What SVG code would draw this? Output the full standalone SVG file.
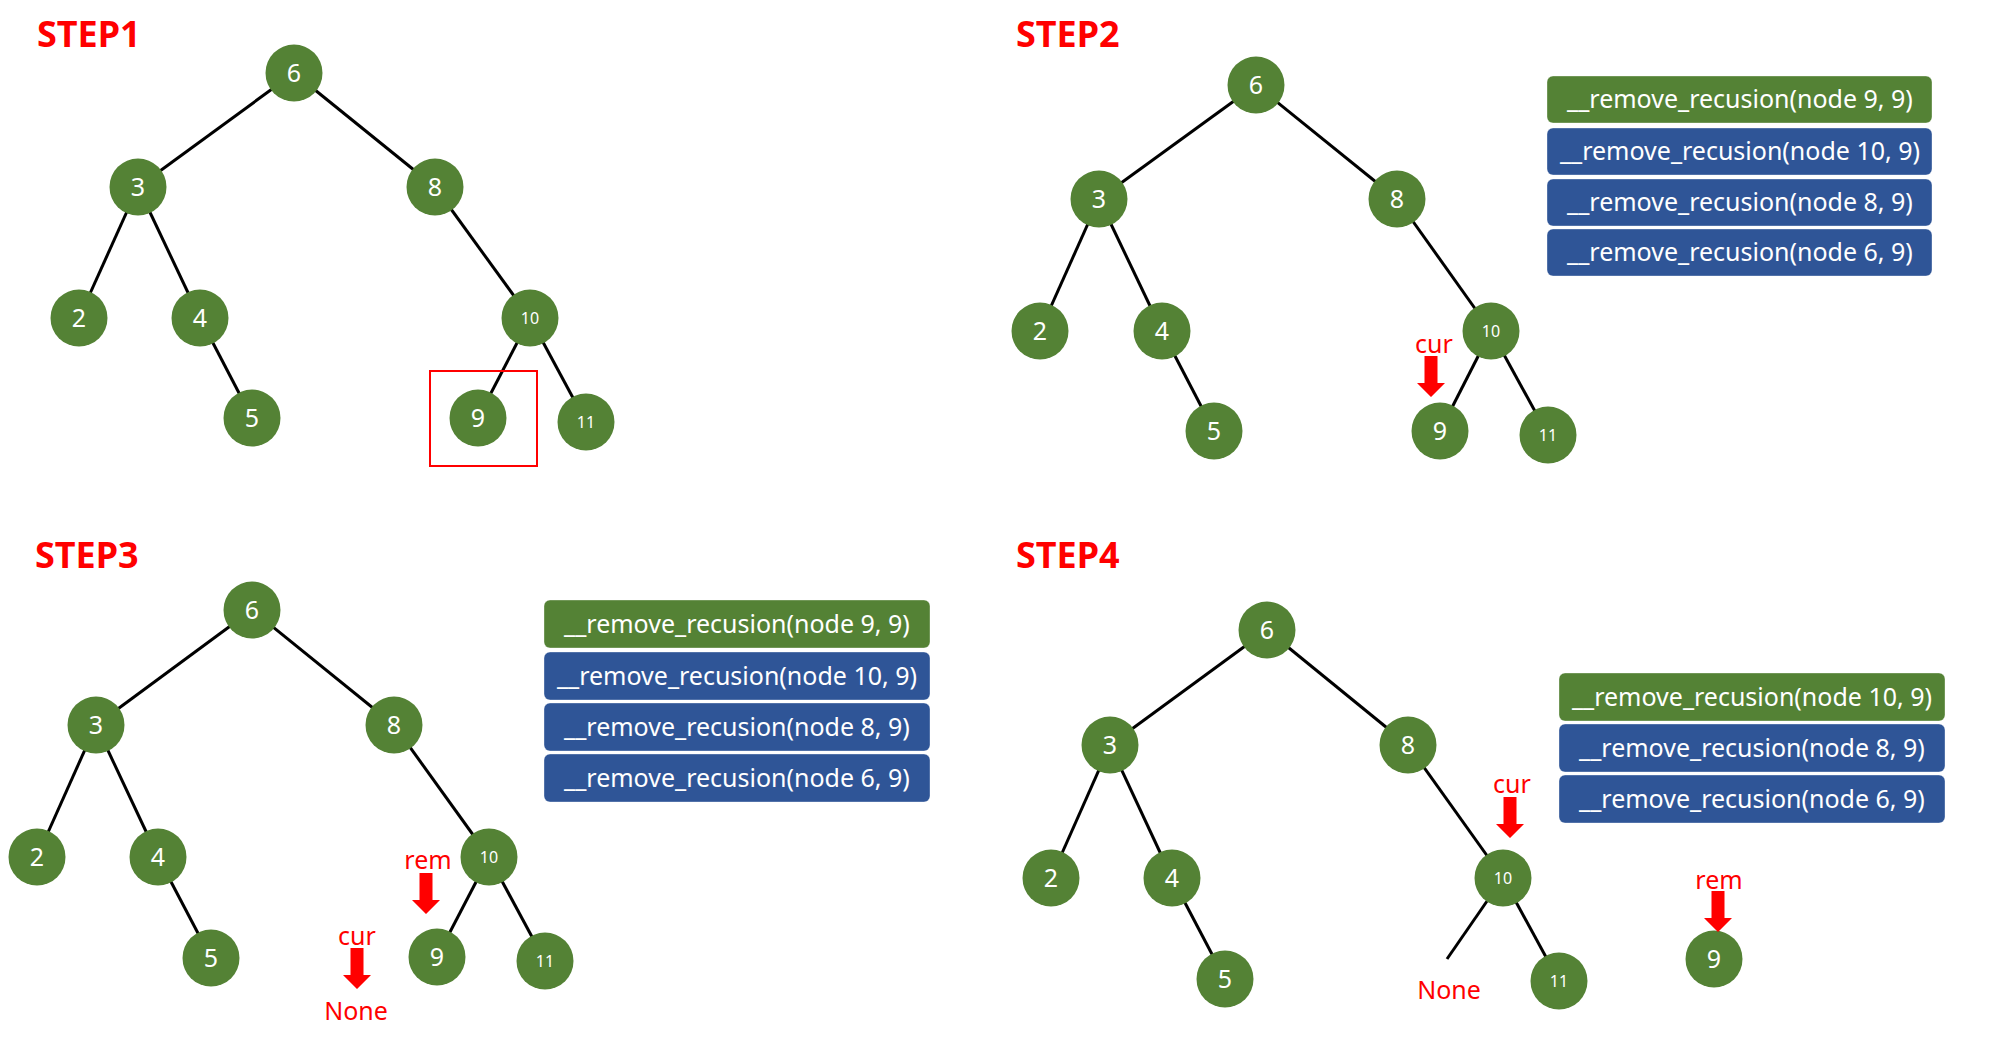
<svg xmlns="http://www.w3.org/2000/svg" xmlns:xlink="http://www.w3.org/1999/xlink" width="2000" height="1045" viewBox="0 0 2000 1045">
<style>
.title{font-family:"Noto Sans","Liberation Sans",sans-serif;font-weight:bold;font-size:36px;fill:#FF0000}
.node circle{fill:#548235}
.node text{font-family:"Noto Sans","Liberation Sans",sans-serif;font-size:25px;fill:#FFFFFF;text-anchor:middle}
.node text.s{font-size:16px}
.edge{stroke:#000;stroke-width:3;fill:none}
.lbl{font-family:"Noto Sans","Liberation Sans",sans-serif;font-size:25px;fill:#FF0000;text-anchor:middle}
.box rect{stroke:#FFFFFF;stroke-opacity:0.35;stroke-width:1}
.box rect.g{fill:#548235}
.box rect.b{fill:#2F5597}
.box text{font-family:"Noto Sans","Liberation Sans",sans-serif;font-size:25px;fill:#FFFFFF;text-anchor:middle}
.arrow{fill:#FF0000}
</style>
<defs>
<path id="arr" d="M-6.5,0 H6.5 V27 H14 L0,41 L-14,27 H-6.5 Z"/>
</defs>
<rect width="2000" height="1045" fill="#FFFFFF"/>

<text class="title" x="37" y="47">STEP1</text>
<text class="title" x="1016" y="47">STEP2</text>
<text class="title" x="35" y="568">STEP3</text>
<text class="title" x="1016" y="568">STEP4</text>

<g id="connectors">
<!-- step1 -->
<line class="edge" x1="294" y1="73" x2="138" y2="187"/>
<line class="edge" x1="294" y1="73" x2="435" y2="187"/>
<line class="edge" x1="138" y1="187" x2="79" y2="318"/>
<line class="edge" x1="138" y1="187" x2="200" y2="318"/>
<line class="edge" x1="200" y1="318" x2="252" y2="418"/>
<line class="edge" x1="435" y1="187" x2="530" y2="318"/>
<line class="edge" x1="530" y1="318" x2="478" y2="418"/>
<line class="edge" x1="530" y1="318" x2="586" y2="422"/>
<!-- step2 -->
<line class="edge" x1="1256" y1="85" x2="1099" y2="199"/>
<line class="edge" x1="1256" y1="85" x2="1397" y2="199"/>
<line class="edge" x1="1099" y1="199" x2="1040" y2="331"/>
<line class="edge" x1="1099" y1="199" x2="1162" y2="331"/>
<line class="edge" x1="1162" y1="331" x2="1214" y2="431"/>
<line class="edge" x1="1397" y1="199" x2="1491" y2="331"/>
<line class="edge" x1="1491" y1="331" x2="1440" y2="431"/>
<line class="edge" x1="1491" y1="331" x2="1548" y2="435"/>
<!-- step3 -->
<line class="edge" x1="252" y1="610" x2="96" y2="725"/>
<line class="edge" x1="252" y1="610" x2="394" y2="725"/>
<line class="edge" x1="96" y1="725" x2="37" y2="857"/>
<line class="edge" x1="96" y1="725" x2="158" y2="857"/>
<line class="edge" x1="158" y1="857" x2="211" y2="958"/>
<line class="edge" x1="394" y1="725" x2="489" y2="857"/>
<line class="edge" x1="489" y1="857" x2="437" y2="957"/>
<line class="edge" x1="489" y1="857" x2="545" y2="961"/>
<!-- step4 -->
<line class="edge" x1="1267" y1="630" x2="1110" y2="745"/>
<line class="edge" x1="1267" y1="630" x2="1408" y2="745"/>
<line class="edge" x1="1110" y1="745" x2="1051" y2="878"/>
<line class="edge" x1="1110" y1="745" x2="1172" y2="878"/>
<line class="edge" x1="1172" y1="878" x2="1225" y2="979"/>
<line class="edge" x1="1408" y1="745" x2="1503" y2="878"/>
<line class="edge" x1="1503" y1="878" x2="1447" y2="959"/>
<line class="edge" x1="1503" y1="878" x2="1559" y2="981"/>
</g>

<!-- STEP1 nodes -->
<g id="s1-n6" class="node"><circle cx="294" cy="73" r="28.5"/><text x="294" y="82">6</text></g>
<g id="s1-n3" class="node"><circle cx="138" cy="187" r="28.5"/><text x="138" y="196">3</text></g>
<g id="s1-n8" class="node"><circle cx="435" cy="187" r="28.5"/><text x="435" y="196">8</text></g>
<g id="s1-n2" class="node"><circle cx="79" cy="318" r="28.5"/><text x="79" y="327">2</text></g>
<g id="s1-n4" class="node"><circle cx="200" cy="318" r="28.5"/><text x="200" y="327">4</text></g>
<g id="s1-n10" class="node"><circle cx="530" cy="318" r="28.5"/><text class="s" x="530" y="324">10</text></g>
<g id="s1-n5" class="node"><circle cx="252" cy="418" r="28.5"/><text x="252" y="427">5</text></g>
<g id="s1-n9" class="node"><circle cx="478" cy="418" r="28.5"/><text x="478" y="427">9</text></g>
<g id="s1-n11" class="node"><circle cx="586" cy="422" r="28.5"/><text class="s" x="586" y="428">11</text></g>
<rect id="s1-highlight" x="430" y="371" width="107" height="95" fill="none" stroke="#FF0000" stroke-width="2"/>

<!-- STEP2 nodes -->
<g id="s2-n6" class="node"><circle cx="1256" cy="85" r="28.5"/><text x="1256" y="94">6</text></g>
<g id="s2-n3" class="node"><circle cx="1099" cy="199" r="28.5"/><text x="1099" y="208">3</text></g>
<g id="s2-n8" class="node"><circle cx="1397" cy="199" r="28.5"/><text x="1397" y="208">8</text></g>
<g id="s2-n2" class="node"><circle cx="1040" cy="331" r="28.5"/><text x="1040" y="340">2</text></g>
<g id="s2-n4" class="node"><circle cx="1162" cy="331" r="28.5"/><text x="1162" y="340">4</text></g>
<g id="s2-n10" class="node"><circle cx="1491" cy="331" r="28.5"/><text class="s" x="1491" y="337">10</text></g>
<g id="s2-n5" class="node"><circle cx="1214" cy="431" r="28.5"/><text x="1214" y="440">5</text></g>
<g id="s2-n9" class="node"><circle cx="1440" cy="431" r="28.5"/><text x="1440" y="440">9</text></g>
<g id="s2-n11" class="node"><circle cx="1548" cy="435" r="28.5"/><text class="s" x="1548" y="441">11</text></g>
<g id="s2-cur"><text class="lbl" x="1434" y="353">cur</text><use xlink:href="#arr" class="arrow" x="1431" y="356"/></g>
<g id="s2-stack" class="box">
<rect class="g" x="1547" y="76" width="385" height="47" rx="6"/><text x="1740" y="108">__remove_recusion(node 9, 9)</text>
<rect class="b" x="1547" y="128" width="385" height="47" rx="6"/><text x="1740" y="160">__remove_recusion(node 10, 9)</text>
<rect class="b" x="1547" y="179" width="385" height="47" rx="6"/><text x="1740" y="211">__remove_recusion(node 8, 9)</text>
<rect class="b" x="1547" y="229" width="385" height="47" rx="6"/><text x="1740" y="261">__remove_recusion(node 6, 9)</text>
</g>

<!-- STEP3 nodes -->
<g id="s3-n6" class="node"><circle cx="252" cy="610" r="28.5"/><text x="252" y="619">6</text></g>
<g id="s3-n3" class="node"><circle cx="96" cy="725" r="28.5"/><text x="96" y="734">3</text></g>
<g id="s3-n8" class="node"><circle cx="394" cy="725" r="28.5"/><text x="394" y="734">8</text></g>
<g id="s3-n2" class="node"><circle cx="37" cy="857" r="28.5"/><text x="37" y="866">2</text></g>
<g id="s3-n4" class="node"><circle cx="158" cy="857" r="28.5"/><text x="158" y="866">4</text></g>
<g id="s3-n10" class="node"><circle cx="489" cy="857" r="28.5"/><text class="s" x="489" y="863">10</text></g>
<g id="s3-n5" class="node"><circle cx="211" cy="958" r="28.5"/><text x="211" y="967">5</text></g>
<g id="s3-n9" class="node"><circle cx="437" cy="957" r="28.5"/><text x="437" y="966">9</text></g>
<g id="s3-n11" class="node"><circle cx="545" cy="961" r="28.5"/><text class="s" x="545" y="967">11</text></g>
<g id="s3-rem"><text class="lbl" x="428" y="869">rem</text><use xlink:href="#arr" class="arrow" x="426" y="873"/></g>
<g id="s3-cur"><text class="lbl" x="357" y="945">cur</text><use xlink:href="#arr" class="arrow" x="357" y="948"/><text class="lbl" x="356" y="1020">None</text></g>
<g id="s3-stack" class="box">
<rect class="g" x="544" y="600" width="386" height="48" rx="6"/><text x="737" y="633">__remove_recusion(node 9, 9)</text>
<rect class="b" x="544" y="652" width="386" height="48" rx="6"/><text x="737" y="685">__remove_recusion(node 10, 9)</text>
<rect class="b" x="544" y="703" width="386" height="48" rx="6"/><text x="737" y="736">__remove_recusion(node 8, 9)</text>
<rect class="b" x="544" y="754" width="386" height="48" rx="6"/><text x="737" y="787">__remove_recusion(node 6, 9)</text>
</g>

<!-- STEP4 nodes -->
<g id="s4-n6" class="node"><circle cx="1267" cy="630" r="28.5"/><text x="1267" y="639">6</text></g>
<g id="s4-n3" class="node"><circle cx="1110" cy="745" r="28.5"/><text x="1110" y="754">3</text></g>
<g id="s4-n8" class="node"><circle cx="1408" cy="745" r="28.5"/><text x="1408" y="754">8</text></g>
<g id="s4-n2" class="node"><circle cx="1051" cy="878" r="28.5"/><text x="1051" y="887">2</text></g>
<g id="s4-n4" class="node"><circle cx="1172" cy="878" r="28.5"/><text x="1172" y="887">4</text></g>
<g id="s4-n10" class="node"><circle cx="1503" cy="878" r="28.5"/><text class="s" x="1503" y="884">10</text></g>
<g id="s4-n5" class="node"><circle cx="1225" cy="979" r="28.5"/><text x="1225" y="988">5</text></g>
<g id="s4-n11" class="node"><circle cx="1559" cy="981" r="28.5"/><text class="s" x="1559" y="987">11</text></g>
<g id="s4-n9" class="node"><circle cx="1714" cy="959" r="28.5"/><text x="1714" y="968">9</text></g>
<g id="s4-none"><text class="lbl" x="1449" y="999">None</text></g>
<g id="s4-cur"><text class="lbl" x="1512" y="793">cur</text><use xlink:href="#arr" class="arrow" x="1510" y="797"/></g>
<g id="s4-rem"><text class="lbl" x="1719" y="889">rem</text><use xlink:href="#arr" class="arrow" x="1718" y="891"/></g>
<g id="s4-stack" class="box">
<rect class="g" x="1559" y="673" width="386" height="48" rx="6"/><text x="1752" y="706">__remove_recusion(node 10, 9)</text>
<rect class="b" x="1559" y="724" width="386" height="48" rx="6"/><text x="1752" y="757">__remove_recusion(node 8, 9)</text>
<rect class="b" x="1559" y="775" width="386" height="48" rx="6"/><text x="1752" y="808">__remove_recusion(node 6, 9)</text>
</g>
</svg>
